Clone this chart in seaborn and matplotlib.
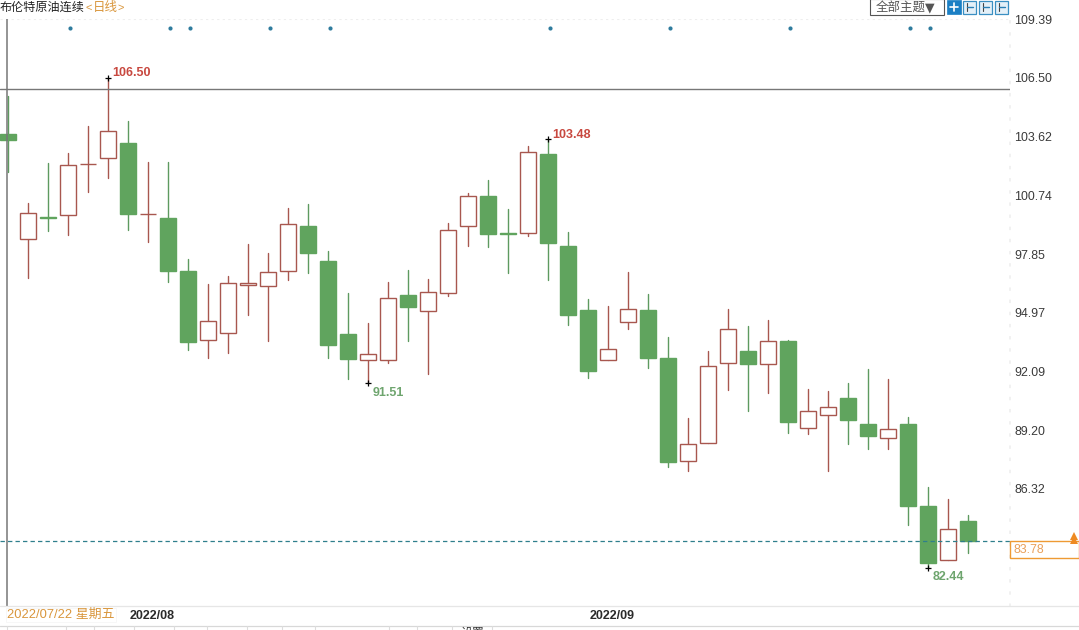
import matplotlib
matplotlib.use('Agg')
import matplotlib.pyplot as plt
import pandas as pd
import seaborn as sns
from matplotlib.patches import Rectangle

opens = [103.75, 98.60, 99.68, 99.78, 102.28, 102.57, 103.31, 99.82, 99.63, 97.03,
         93.64, 93.98, 96.34, 96.29, 97.03, 99.23, 97.52, 93.93, 92.66, 92.66,
         95.85, 95.06, 95.95, 99.23, 100.71, 98.86, 98.89, 102.77, 98.25, 95.11,
         92.66, 94.52, 95.11, 92.75, 87.70, 88.58, 92.51, 93.10, 92.46, 93.59,
         89.32, 89.96, 90.79, 89.51, 88.83, 89.51, 85.49, 82.84, 84.75]
highs = [105.62, 100.36, 102.33, 102.82, 104.14, 106.50, 104.39, 102.38, 102.38, 97.61,
         96.39, 96.78, 98.35, 97.91, 100.12, 100.31, 98.01, 95.95, 94.47, 96.49,
         97.08, 96.63, 99.38, 100.85, 101.49, 100.07, 103.16, 103.48, 98.94, 95.65,
         95.31, 96.98, 95.90, 93.79, 89.81, 93.10, 95.16, 94.33, 94.62, 93.64,
         91.23, 91.13, 91.53, 92.21, 91.72, 89.86, 86.42, 85.83, 85.05]
lows = [101.89, 96.68, 98.99, 98.79, 100.90, 101.59, 99.04, 98.45, 96.49, 93.15,
        92.75, 93.00, 94.87, 93.59, 96.58, 96.93, 92.75, 91.72, 91.51, 92.51,
        93.59, 91.97, 95.80, 98.25, 98.20, 96.93, 98.74, 96.58, 94.37, 91.77,
        92.66, 94.18, 92.26, 87.40, 87.21, 88.58, 91.18, 90.15, 91.04, 89.07,
        89.02, 87.21, 88.53, 88.29, 88.29, 84.56, 82.44, 82.84, 83.18]
closes = [103.46, 99.87, 99.63, 102.23, 102.28, 103.90, 99.82, 99.82, 97.03, 93.54,
          94.57, 96.44, 96.44, 96.98, 99.33, 97.91, 93.39, 92.71, 92.95, 95.70,
          95.26, 96.00, 99.04, 100.71, 98.84, 98.84, 102.87, 98.40, 94.87, 92.12,
          93.20, 95.16, 92.75, 87.65, 88.53, 92.36, 94.18, 92.46, 93.59, 89.61,
          90.15, 90.35, 89.71, 88.93, 89.27, 85.49, 82.69, 84.36, 83.78]

y_ticks = [109.39, 106.50, 103.62, 100.74, 97.85, 94.97, 92.09, 89.20, 86.32]
month_pos = [6, 29]
month_labels = ['2022/08', '2022/09']
event_days = [3, 8, 9, 13, 16, 27, 33, 39, 45, 46]
last_price = 83.78
cursor_price = 105.96

GREEN = '#60A45E'
GREEN_WICK = '#5E9A60'
RED = '#A8574F'

sns.set_theme(style='white')
plt.rcParams['font.family'] = ['Liberation Sans', 'Noto Sans CJK SC', 'DejaVu Sans']

df = pd.DataFrame({'open': opens, 'high': highs, 'low': lows, 'close': closes})
df['day'] = range(len(df))
df['up'] = df['close'] >= df['open']

wicks = df.melt(id_vars=['day', 'up'], value_vars=['high', 'low'], value_name='price')

fig = plt.figure(figsize=(10.79, 6.30), dpi=100)
ax = fig.add_axes([0, 24 / 630, 1010 / 1079, 587 / 630])

sns.lineplot(data=wicks, x='day', y='price', hue='up', units='day', estimator=None,
             palette={True: RED, False: GREEN_WICK}, linewidth=1.0, legend=False, ax=ax, zorder=2)

# bodies
bottoms = df[['open', 'close']].min(axis=1)
heights = (df['close'] - df['open']).abs()
face = [('white' if u else GREEN) for u in df['up']]
edge = [(RED if u else GREEN) for u in df['up']]
ax.bar(df['day'], heights, bottom=bottoms, width=0.82, color=face, edgecolor=edge, linewidth=1.0, zorder=3)

# event dots along the top
ev = pd.DataFrame({'day': [d + 0.08 for d in event_days], 'price': [108.95] * len(event_days)})
sns.scatterplot(data=ev, x='day', y='price', color='#2F7C9E', s=9, linewidth=0, ax=ax, zorder=4)

ax.axhline(last_price, color='#2F7F8C', lw=0.9, ls=(0, (3.5, 2.5)), zorder=5)
ax.axhline(cursor_price, color='#777777', lw=1.0, zorder=5)
ax.axvline(-0.03, color='#777777', lw=1.1, zorder=5)
ax.axhline(y_ticks[0], color='#EEEEEE', lw=0.8, ls=(0, (2, 3)), zorder=1)

# high / low markers
for day, val, col, off in [(5, 106.50, '#C8483F', (4, 5)), (27, 103.48, '#C8483F', (4, 4)),
                           (18, 91.51, '#6EA56E', (5, -10)), (46, 82.44, '#6EA56E', (5, -9))]:
    ax.plot([day + 0.02], [val], marker='+', color='black', ms=5, mew=0.9, zorder=6, clip_on=False)
    ax.annotate(f'{val:.2f}', xy=(day, val), xytext=off, textcoords='offset pixels', color=col,
                fontsize=9, fontweight='bold', ha='left', va='center')

ax.set_xlim(-0.4, 50.1)
ax.set_ylim(80.57, 109.39)
ax.set_xlabel('')
ax.set_ylabel('')
ax.yaxis.tick_right()
ax.set_yticks(y_ticks)
ax.set_yticklabels([f'{t:.2f}' for t in y_ticks], fontsize=8.9, color='#3A3A3A')
ax.set_xticks([p + 0.1 for p in month_pos])
ax.set_xticklabels(month_labels, fontsize=9, fontweight='bold', color='#2A2A2A', ha='left')
ax.tick_params(axis='y', length=0, pad=3)
ax.tick_params(axis='x', length=0, pad=3)
sns.despine(ax=ax, left=True, bottom=True, right=False, top=True)
ax.spines['right'].set_color('#F0F0F0')
ax.spines['right'].set_linestyle((0, (1, 6)))

# page furniture, in pixel coordinates
ov = fig.add_axes([0, 0, 1, 1], zorder=10)
ov.set_xlim(0, 1079)
ov.set_ylim(630, 0)
ov.axis('off')
ov.patch.set_alpha(0)

ov.text(0, 8, '布伦特原油连续', fontsize=8.7, color='#222222', va='center')
ov.text(86, 8, '<', fontsize=8, color='#D9963C', va='center')
ov.text(93, 8, '日线', fontsize=9, color='#D9963C', va='center')
ov.text(118, 8, '>', fontsize=8, color='#D9963C', va='center')

ov.add_patch(Rectangle((869.5, -1), 74, 15.5, fc='white', ec='#555555', lw=0.8))
ov.text(876, 7.5, '全部主题', fontsize=9, color='#555555', va='center')
ov.text(925, 7.5, '▼', fontsize=9, color='#555555', va='center', family=['DejaVu Sans'])

ov.add_patch(Rectangle((947, 0), 14, 14, fc='#1B7FC4', ec='#1B7FC4', lw=0.5))
ov.plot([954, 954], [3, 11], color='white', lw=1.2)
ov.plot([950, 958], [7, 7], color='white', lw=1.2)
for x0 in [963, 979, 995]:
    ov.add_patch(Rectangle((x0, 0.5), 13, 13, fc='#E4F0F8', ec='#3A8FC2', lw=0.9))
    ov.plot([x0 + 4, x0 + 4], [3, 11], color='#444444', lw=0.8)
    ov.plot([x0 + 4, x0 + 10], [7, 7], color='#2A7FB5', lw=1.0)

ov.plot([0, 1079], [606, 606], color='#E6E6E6', lw=0.9)
ov.plot([0, 1079], [626, 626], color='#D8D8D8', lw=0.9)
ov.add_patch(Rectangle((5.5, 608), 110, 14, fc='white', ec='#F6F6F6', lw=0.6))
ov.text(7, 615, '2022/07/22 星期五', fontsize=9.3, color='#D9963C', va='center')

for x0 in [7, 66, 94, 134, 174, 207, 247, 282, 315, 389, 417, 452, 492]:
    ov.plot([x0, x0], [626, 630], color='#DDDDDD', lw=0.8)
ov.text(472, 634, '设置', fontsize=8.6, color='#333333', ha='center', va='center', clip_on=True)

ov.add_patch(Rectangle((1010, 541), 68.5, 17, fc='white', ec='#EE9A33', lw=1.0))
ov.text(1013, 550, f'{last_price:.2f}', fontsize=8.9, color='#E9A05A', va='center')
ov.plot([1074], [536], marker='^', ms=5.5, color='#EE8A22', mew=0)
ov.plot([1074], [539.5], marker='^', ms=5.5, color='#EE8A22', mew=0)

fig.savefig('out.png', dpi=100)
